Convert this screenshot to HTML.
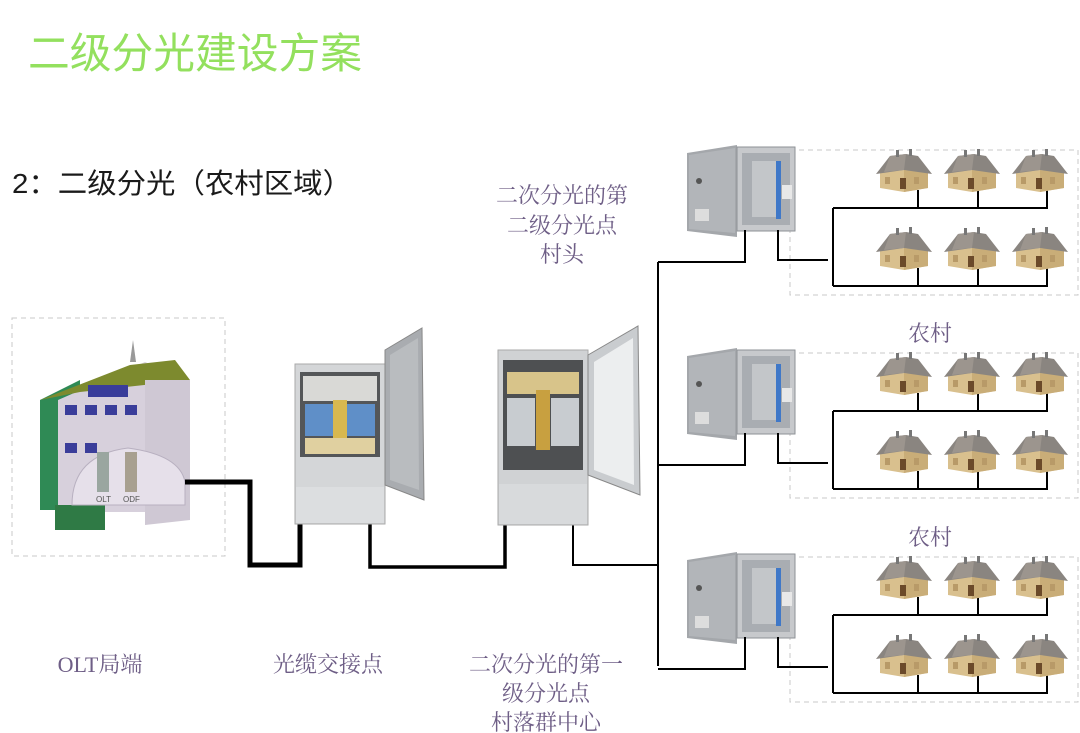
<!DOCTYPE html>
<html><head><meta charset="utf-8"><style>
html,body{margin:0;padding:0;background:#fff;}
svg{display:block;}
.t{font-family:"Liberation Sans","Noto Sans CJK SC",sans-serif;}
.p{font-family:"Liberation Serif","Noto Serif CJK SC",serif;fill:#6e5e86;font-size:22px;}
</style></head><body>
<svg width="1080" height="733" viewBox="0 0 1080 733" xmlns="http://www.w3.org/2000/svg">
<defs>
<symbol id="house" viewBox="0 0 56 46" overflow="visible">
  <polygon points="4,24 28,22 52,24 52,40 28,44 4,40" fill="#d9c08e"/>
  <polygon points="28,22 52,24 52,40 28,44" fill="#c9ad78"/>
  <polygon points="0,26 14,8 30,6 42,8 56,26 28,22" fill="#8a8580"/>
  <polygon points="14,8 30,6 28,22 8,24" fill="#9c958e"/>
  <rect x="20" y="2" width="3" height="7" fill="#777"/>
  <rect x="33" y="1" width="3" height="7" fill="#777"/>
  <rect x="24" y="30" width="6" height="11" fill="#6b4a2a"/>
  <rect x="9" y="29" width="5" height="7" fill="#b89a68"/>
  <rect x="38" y="29" width="5" height="7" fill="#b89a68"/>
</symbol>
<symbol id="wbox" viewBox="0 0 110 92" overflow="visible">
  <polygon points="0,8 50,0 50,92 0,86" fill="#a4a7ab"/>
  <polygon points="2,10 48,3 48,88 2,84" fill="#b2b5b9"/>
  <rect x="50" y="2" width="58" height="84" fill="#c7c9cc" stroke="#8e9196"/>
  <rect x="55" y="8" width="48" height="72" fill="#a9adb2"/>
  <rect x="65" y="16" width="26" height="56" fill="#c3c6c9"/>
  <rect x="89" y="16" width="5" height="58" fill="#3f78c8"/>
  <rect x="95" y="40" width="10" height="14" fill="#e8e8e8"/>
  <rect x="8" y="64" width="14" height="12" fill="#ddd"/>
  <circle cx="12" cy="36" r="3" fill="#555"/>
</symbol>
</defs>

<text class="t" x="28" y="68" font-size="42" fill="#93e05e" textLength="334" lengthAdjust="spacingAndGlyphs">二级分光建设方案</text>
<text class="t" x="12" y="193" font-size="28" fill="#1a1a1a" textLength="340" lengthAdjust="spacingAndGlyphs">2：二级分光（农村区域）</text>

<g class="p" text-anchor="middle">
<text x="562" y="203">二次分光的第</text>
<text x="562" y="233">二级分光点</text>
<text x="562" y="262">村头</text>
<text x="930" y="341">农村</text>
<text x="930" y="545">农村</text>
<text x="100" y="672">OLT局端</text>
<text x="328" y="672">光缆交接点</text>
<text x="546" y="672">二次分光的第一</text>
<text x="546" y="701">级分光点</text>
<text x="546" y="730">村落群中心</text>
</g>

<rect x="12" y="318" width="213" height="238" fill="none" stroke="#c8c8c8" stroke-dasharray="5,4"/>
<polygon points="40,400 80,380 80,510 40,510" fill="#2f8a55"/>
<polygon points="58,400 145,362 190,380 190,512 58,512" fill="#d7d0dc"/>
<polygon points="40,400 130,365 175,360 190,380 80,392" fill="#7d8a2e"/>
<polygon points="145,380 190,380 190,520 145,525" fill="#cfc8d4"/>
<polygon points="130,362 133,340 136,362" fill="#999"/>
<rect x="88" y="385" width="40" height="12" fill="#3a3d9a"/>
<g fill="#3a3d9a"><rect x="65" y="405" width="12" height="10"/><rect x="85" y="405" width="12" height="10"/><rect x="105" y="405" width="12" height="10"/><rect x="125" y="405" width="12" height="10"/>
<rect x="65" y="443" width="12" height="10"/><rect x="85" y="443" width="12" height="10"/></g>
<polygon points="55,505 105,505 105,530 55,530" fill="#2f7a45"/>
<path d="M72,505 Q72,455 128,448 Q180,455 185,482 L185,505 Z" fill="#e6e0ea" stroke="#b8b0c0"/>
<rect x="97" y="452" width="12" height="40" fill="#9aa6a0"/>
<rect x="125" y="452" width="12" height="40" fill="#a8a090"/>
<text x="96" y="502" font-size="8" fill="#555" class="t">OLT</text>
<text x="123" y="502" font-size="8" fill="#555" class="t">ODF</text>

<polyline points="185,482 250,482 250,565 300,565 300,522" fill="none" stroke="#000" stroke-width="5"/>
<polyline points="370,522 370,567 505,567 505,525" fill="none" stroke="#000" stroke-width="3.5"/>
<polyline points="573,525 573,565 658,565" fill="none" stroke="#000" stroke-width="2"/>

<rect x="295" y="364" width="90" height="160" fill="#d4d6d8" stroke="#aaa"/>
<rect x="300" y="372" width="80" height="85" fill="#545658"/>
<rect x="303" y="376" width="74" height="25" fill="#d9d9d6"/>
<rect x="305" y="404" width="28" height="32" fill="#5f8fc8"/>
<rect x="347" y="404" width="28" height="32" fill="#5f8fc8"/>
<rect x="333" y="400" width="14" height="40" fill="#d8b850"/>
<rect x="305" y="438" width="70" height="16" fill="#e0d0a0"/>
<rect x="296" y="487" width="88" height="36" fill="#dcdee0"/>
<polygon points="385,350 422,328 424,500 385,485" fill="#a9acb0" stroke="#888"/>
<polygon points="390,355 418,338 419,490 390,480" fill="#b9bcbf"/>
<rect x="498" y="350" width="90" height="175" fill="#d0d2d4" stroke="#aaa"/>
<rect x="503" y="360" width="80" height="110" fill="#4e5052"/>
<rect x="507" y="372" width="72" height="22" fill="#d8c48a"/>
<rect x="507" y="398" width="28" height="48" fill="#c8ccd0"/>
<rect x="551" y="398" width="28" height="48" fill="#c8ccd0"/>
<rect x="536" y="390" width="14" height="60" fill="#c8a040"/>
<rect x="499" y="484" width="88" height="40" fill="#d8dadc"/>
<polygon points="588,355 638,326 640,495 588,475" fill="#c9cccf" stroke="#888"/>
<polygon points="594,362 633,338 634,485 594,470" fill="#eceeef"/>

<line x1="658" y1="262" x2="658" y2="666" stroke="#000" stroke-width="2"/>

<g id="branch">
<rect x="790" y="150" width="288" height="145" fill="none" stroke="#c8c8c8" stroke-dasharray="5,4"/>
<use href="#wbox" x="687" y="145" width="110" height="92"/>
<polyline points="658,262 745,262 745,230" fill="none" stroke="#000" stroke-width="2"/>
<polyline points="778,230 778,260 828,260" fill="none" stroke="#000" stroke-width="2"/>
<line x1="833" y1="208" x2="833" y2="286" stroke="#000" stroke-width="2"/>
<line x1="833" y1="208" x2="1048" y2="208" stroke="#000" stroke-width="2"/>
<line x1="833" y1="286" x2="1048" y2="286" stroke="#000" stroke-width="2"/>
<g stroke="#000" stroke-width="2"><line x1="918" y1="190" x2="918" y2="208"/><line x1="978" y1="190" x2="978" y2="208"/><line x1="1047" y1="190" x2="1047" y2="208"/>
<line x1="918" y1="268" x2="918" y2="286"/><line x1="978" y1="268" x2="978" y2="286"/><line x1="1047" y1="268" x2="1047" y2="286"/></g>
<use href="#house" x="876" y="148" width="56" height="46"/>
<use href="#house" x="944" y="148" width="56" height="46"/>
<use href="#house" x="1012" y="148" width="56" height="46"/>
<use href="#house" x="876" y="226" width="56" height="46"/>
<use href="#house" x="944" y="226" width="56" height="46"/>
<use href="#house" x="1012" y="226" width="56" height="46"/>
</g>
<use href="#branch" x="0" y="203"/>
<use href="#branch" x="0" y="407"/>
</svg>
</body></html>
